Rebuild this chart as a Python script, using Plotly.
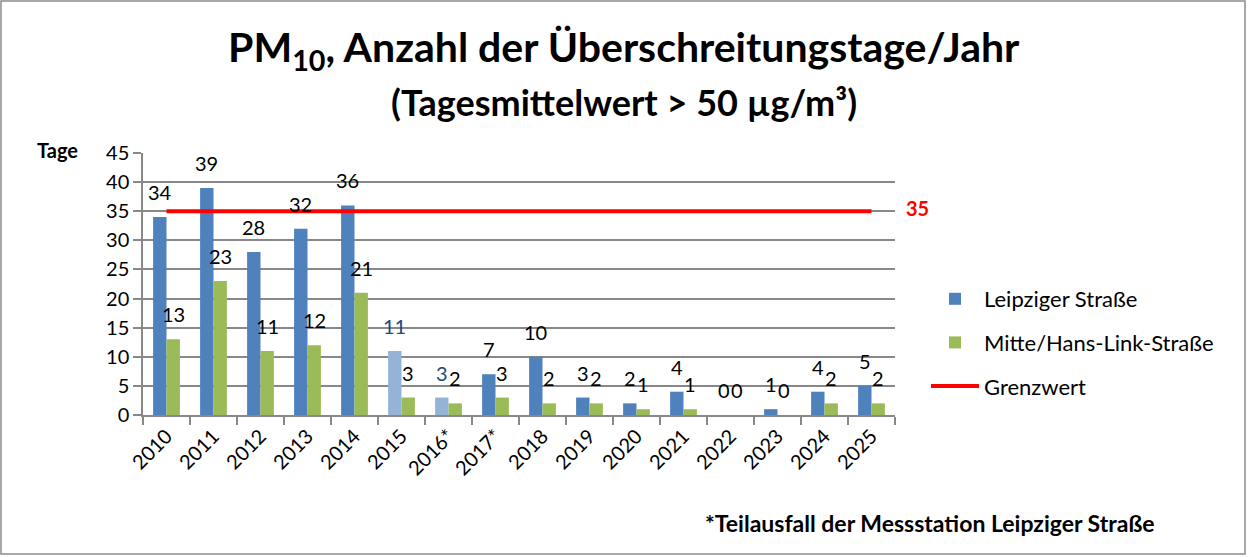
import plotly.graph_objects as go

years = ["2010", "2011", "2012", "2013", "2014", "2015", "2016*", "2017*",
         "2018", "2019", "2020", "2021", "2022", "2023", "2024", "2025"]
leipziger = [34, 39, 28, 32, 36, 11, 3, 7, 10, 3, 2, 4, 0, 1, 4, 5]
mitte = [13, 23, 11, 12, 21, 3, 2, 3, 2, 2, 1, 1, 0, 0, 2, 2]
grenzwert = 35
teilausfall = ["2015", "2016*"]  # hellere Balken

FONT = "Lato"
BLUE = "#4F81BD"
LIGHT_BLUE = "#95B3D7"
GREEN = "#9BBB59"
RED = "#FF0000"
GRID = "#888888"

# plot area in pixels: x 143..895, y 153..415
L, R, T, B = 143, 353, 153, 142
PW, PH = 1248 - L - R, 557 - T - B

def px(x):
    return (x - L) / PW

def py(y):
    return (557 - B - y) / PH

blue_colors = [LIGHT_BLUE if y in teilausfall else BLUE for y in years]

fig = go.Figure()
fig.add_trace(go.Bar(x=years, y=leipziger, name="Leipziger Straße",
                     marker=dict(color=blue_colors, line=dict(width=0)),
                     legendgroup="a"))
fig.add_trace(go.Bar(x=years, y=mitte, name="Mitte/Hans-Link-Straße",
                     marker=dict(color=GREEN, line=dict(width=0)),
                     legendgroup="b"))
fig.add_trace(go.Scatter(x=years, y=[grenzwert] * len(years), name="Grenzwert",
                         mode="lines", line=dict(color=RED, width=4),
                         legendgroup="c"))

# data labels above the bars (category index, since "2010" would be read as an index)
half = PW / len(years) * (1 - 0.43) / 4
for i, (yr, v) in enumerate(zip(years, leipziger)):
    col = "#1F497D" if yr in teilausfall else "black"
    fig.add_annotation(x=i, y=v, text=str(v), showarrow=False, xshift=-half,
                       yshift=25, font=dict(size=20, color=col, family=FONT))
for i, v in enumerate(mitte):
    fig.add_annotation(x=i, y=v, text=str(v), showarrow=False, xshift=half,
                       yshift=25, font=dict(size=20, color="black", family=FONT))

fig.add_annotation(xref="paper", x=px(904), y=grenzwert, text="<b>35</b>",
                   xanchor="left", yanchor="middle", showarrow=False, yshift=3,
                   font=dict(size=20, color=RED, family=FONT))

texts = [
    ("<b>PM<sub>10</sub>, Anzahl der Überschreitungstage/Jahr</b>", 624, 50, 41),
    ("<b>(Tagesmittelwert > 50 µg/m³)</b>", 624, 102, 36),
    ("<b>Tage</b>", 57, 150, 20),
    ("<b>*Teilausfall der Messstation Leipziger Straße</b>", 930, 523, 23),
]
for txt, x, y, size in texts:
    fig.add_annotation(xref="paper", yref="paper", x=px(x), y=py(y),
                       xanchor="center", yanchor="middle", text=txt,
                       showarrow=False,
                       font=dict(size=size, color="black", family=FONT))

fig.add_shape(type="rect", xref="paper", yref="paper",
              x0=px(1), x1=px(1245), y0=py(554), y1=py(1),
              line=dict(color="#8C8C8C", width=1.5))

fig.update_layout(
    width=1248, height=557,
    margin=dict(l=L, r=R, t=T, b=B),
    paper_bgcolor="white", plot_bgcolor="white",
    barmode="group", bargap=0.43, bargroupgap=0,
    font=dict(family=FONT, size=20, color="black"),
    showlegend=True,
    legend=dict(x=px(926), y=py(278), xanchor="left", yanchor="top",
                traceorder="grouped", tracegroupgap=12, itemwidth=48,
                font=dict(size=22, family=FONT), bgcolor="rgba(0,0,0,0)"),
)
fig.update_xaxes(type="category", showline=True, linecolor=GRID, linewidth=1.5,
                 ticks="outside", tickson="boundaries", ticklen=8, tickcolor=GRID,
                 tickwidth=1.5, tickangle=-45, showgrid=False,
                 tickfont=dict(size=20, family=FONT))
fig.update_yaxes(range=[0, 45], dtick=5, showline=True, linecolor=GRID,
                 linewidth=1.5, ticks="outside", ticklen=8, tickcolor=GRID,
                 tickwidth=1.5, showgrid=True, gridcolor=GRID, gridwidth=1.5,
                 zeroline=False, tickfont=dict(size=20, family=FONT))

fig.write_html("out.html", config={"displayModeBar": False},
               post_script="document.body.style.margin='0';")
